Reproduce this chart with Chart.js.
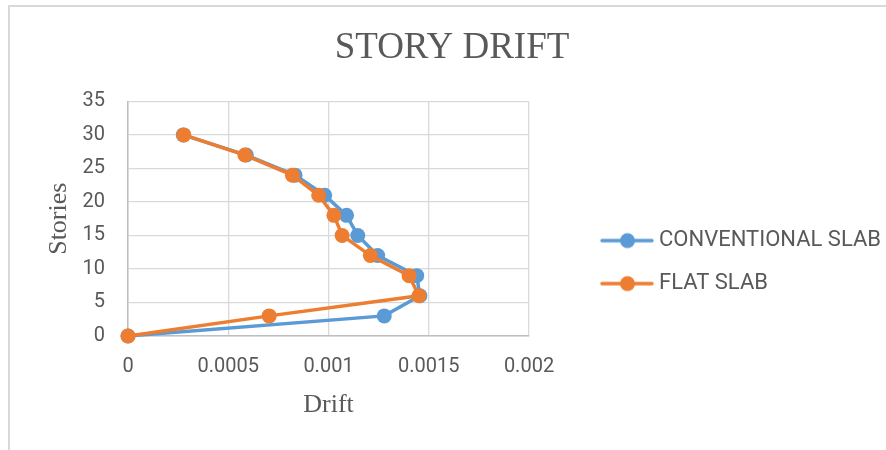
<!DOCTYPE html>
<html>
<head>
<meta charset="utf-8">
<script src="https://cdn.jsdelivr.net/npm/chart.js@4.4.1/dist/chart.umd.min.js"></script>
<style>
  html, body { margin: 0; padding: 0; background: #fff; }
  #wrap { position: relative; width: 886px; height: 450px; overflow: hidden; }
  #frame { position: absolute; left: 8px; top: 5px; width: 900px; height: 460px;
           border-left: 2px solid #d9d9d9; border-top: 2px solid #d9d9d9; }
  #chart { position: absolute; left: 0; top: 0; }
</style>
</head>
<body>
<div id="wrap">
  <div id="frame"></div>
  <canvas id="chart" width="886" height="450"></canvas>
</div>
<script>
// story levels and drift per story
var stories = [0, 3, 6, 9, 12, 15, 18, 21, 24, 27, 30];
var conventionalSlab = [0, 0.001278, 0.001456, 0.00144, 0.001245, 0.001146, 0.00109, 0.000981, 0.000833, 0.00059, 0.000276];
var flatSlab = [0, 0.000704, 0.001451, 0.001402, 0.001209, 0.001068, 0.001027, 0.000951, 0.00082, 0.000583, 0.000278];
var driftTicks = [0, 0.0005, 0.001, 0.0015, 0.002];
var storyTicks = [0, 5, 10, 15, 20, 25, 30, 35];

var BLUE = '#5B9BD5';
var ORANGE = '#ED7D31';
var TEXT = '#595959';

function points(values) {
  return stories.map(function(s, i) { return { x: values[i], y: s }; });
}

// legend marker: short line with a dot, like the spreadsheet legend
function legendMark(color) {
  var c = document.createElement('canvas');
  c.width = 110; c.height = 20;
  var g = c.getContext('2d');
  g.strokeStyle = color;
  g.lineWidth = 3.5;
  g.lineCap = 'round';
  g.beginPath(); g.moveTo(58, 10); g.lineTo(108, 10); g.stroke();
  g.fillStyle = color;
  g.beginPath(); g.arc(83.5, 10, 7.5, 0, Math.PI * 2); g.fill();
  return c;
}

var marks = [legendMark(BLUE), legendMark(ORANGE)];

new Chart(document.getElementById('chart'), {
  type: 'scatter',
  data: {
    datasets: [
      {
        label: 'CONVENTIONAL SLAB',
        data: points(conventionalSlab),
        showLine: true,
        borderColor: BLUE,
        backgroundColor: BLUE,
        borderWidth: 3.5,
        pointRadius: 7.5,
        pointBorderWidth: 0,
        clip: false,
        order: 1
      },
      {
        label: 'FLAT SLAB',
        data: points(flatSlab),
        showLine: true,
        borderColor: ORANGE,
        backgroundColor: ORANGE,
        borderWidth: 3.5,
        pointRadius: 7.5,
        pointBorderWidth: 0,
        clip: false,
        order: 0
      }
    ]
  },
  options: {
    responsive: false,
    animation: false,
    devicePixelRatio: 1,
    layout: { padding: { left: 18, right: 0, top: 0, bottom: 0 } },
    plugins: {
      tooltip: { enabled: false },
      title: {
        display: true,
        text: 'STORY DRIFT',
        color: TEXT,
        font: { family: 'Liberation Serif', size: 37, weight: 'normal' },
        padding: { top: 26, bottom: 31 }
      },
      legend: {
        position: 'right',
        maxWidth: 357,
        title: { display: true, text: ' ', font: { size: 1 }, padding: { top: 0, bottom: 73 } },
        labels: {
          usePointStyle: true,
          pointStyleWidth: 98,
          padding: 21,
          color: TEXT,
          font: { family: 'Roboto', size: 22 },
          generateLabels: function(chart) {
            return chart.data.datasets.map(function(ds, i) {
              return {
                text: ds.label,
                fillStyle: ds.borderColor,
                strokeStyle: ds.borderColor,
                fontColor: TEXT,
                lineWidth: 0,
                pointStyle: marks[i],
                hidden: false,
                datasetIndex: i
              };
            });
          }
        }
      }
    },
    scales: {
      x: {
        type: 'linear',
        min: 0,
        max: 0.002,
        afterBuildTicks: function(scale) {
          scale.ticks = driftTicks.map(function(v) { return { value: v }; });
        },
        afterFit: function(scale) { scale.height = 114; },
        grid: { color: '#d9d9d9', lineWidth: 1.3, drawTicks: false },
        border: { color: '#bfbfbf', width: 1.5 },
        ticks: {
          padding: 19,
          color: TEXT,
          font: { family: 'Roboto', size: 20 },
          callback: function(v) { return String(v); }
        },
        title: {
          display: true,
          text: 'Drift',
          color: TEXT,
          font: { family: 'Liberation Serif', size: 26 },
          padding: { top: 0, bottom: 29 }
        }
      },
      y: {
        type: 'linear',
        min: 0,
        max: 35,
        afterBuildTicks: function(scale) {
          scale.ticks = storyTicks.map(function(v) { return { value: v }; });
        },
        afterFit: function(scale) { scale.width = 110; },
        grid: { color: '#d9d9d9', lineWidth: 1.3, drawTicks: false },
        border: { color: '#bfbfbf', width: 1.5 },
        ticks: {
          padding: 23,
          color: TEXT,
          font: { family: 'Roboto', size: 20 }
        },
        title: {
          display: true,
          text: 'Stories',
          color: TEXT,
          font: { family: 'Liberation Serif', size: 26 },
          padding: { top: 26, bottom: 0 }
        }
      }
    }
  }
});
</script>
</body>
</html>
